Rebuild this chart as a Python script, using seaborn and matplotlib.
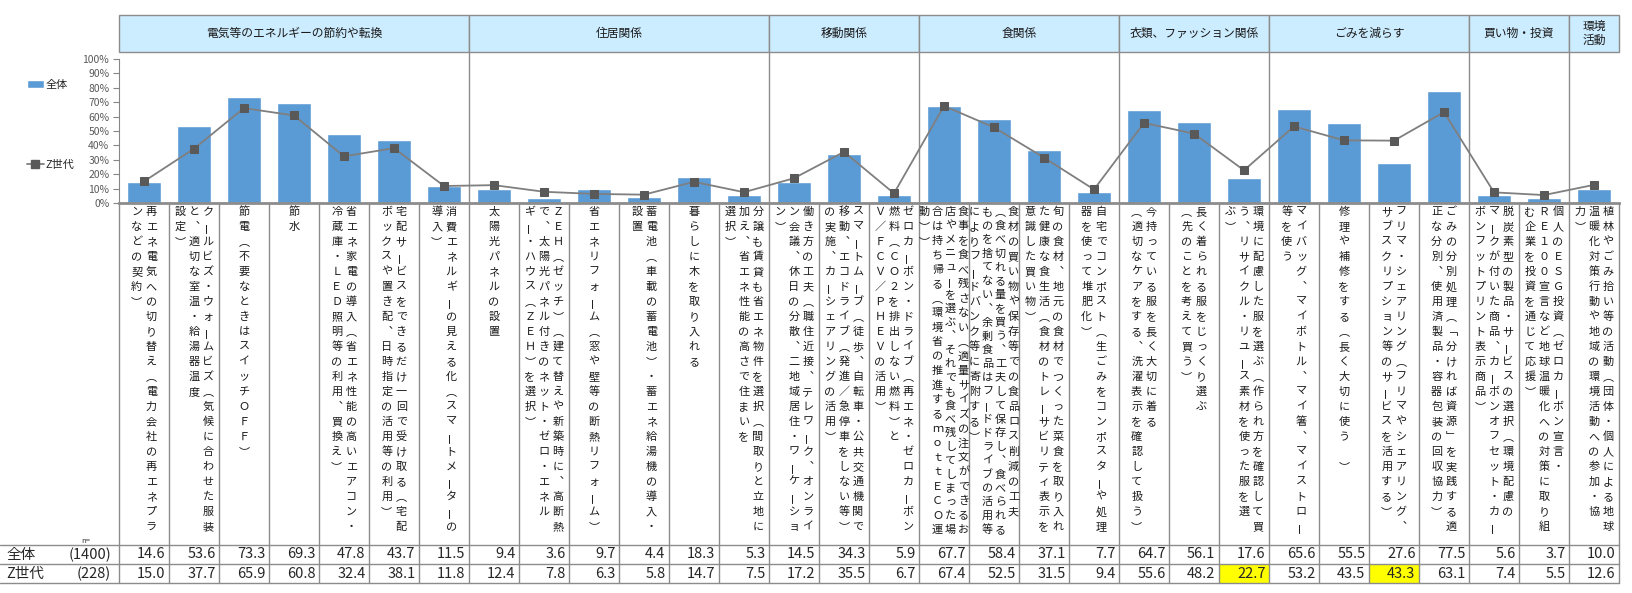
import numpy as np
import pandas as pd
import matplotlib
matplotlib.use("Agg")
import matplotlib.pyplot as plt
from matplotlib.patches import Rectangle, Patch
from matplotlib.lines import Line2D
import seaborn as sns

# ---- data ----
groups = ["電気等のエネルギーの節約や転換", "住居関係", "移動関係", "食関係",
          "衣類、ファッション関係", "ごみを減らす", "買い物・投資", "環境\n活動"]
group_sizes = [7, 6, 3, 4, 3, 4, 2, 1]

# each label is written in vertical columns, right to left
labels = [
    ["再エネ電気への切り替え（電力会社の再エネプラ", "ンなどの契約）"],
    ["クールビズ・ウォームビズ（気候に合わせた服装", "と、適切な室温・給湯器温度", "設定）"],
    ["節電（不要なときはスイッチＯＦＦ）"],
    ["節水"],
    ["省エネ家電の導入（省エネ性能の高いエアコン・", "冷蔵庫・ＬＥＤ照明等の利用、買換え）"],
    ["宅配サービスをできるだけ一回で受け取る（宅配", "ボックスや置き配、日時指定の活用等の利用）"],
    ["消費エネルギーの見える化（スマートメーターの", "導入）"],
    ["太陽光パネルの設置"],
    ["ＺＥＨ（ゼッチ）（建て替えや新築時に、高断熱", "で、太陽光パネル付きのネット・ゼロ・エネル",
     "ギー・ハウス（ＺＥＨ）を選択）"],
    ["省エネリフォーム（窓や壁等の断熱リフォーム）"],
    ["蓄電池（車載の蓄電池）・蓄エネ給湯機の導入・", "設置"],
    ["暮らしに木を取り入れる"],
    ["分譲も賃貸も省エネ物件を選択（間取りと立地に", "加え、省エネ性能の高さで住まいを", "選択）"],
    ["働き方の工夫（職住近接、テレワーク、オンライ", "ン会議、休日の分散、二地域居住・ワーケーショ", "ン）"],
    ["スマートムーブ（徒歩、自転車・公共交通機関で", "移動、エコドライブ（発進／急停車をしない等）",
     "の実施、カーシェアリングの活用）"],
    ["ゼロカーボン・ドライブ（再エネ・ゼロカーボン", "燃料（ＣＯ２を排出しない燃料）と",
     "Ｖ／ＦＣＶ／ＰＨＥＶの活用）"],
    ["食事を食べ残さない（適量サイズの注文ができるお", "店やメニューを選ぶ、それでも食べ残してしまった場",
     "合は持ち帰る（環境省の推進するｍｏｔｔＥＣＯ運", "動））"],
    ["食材の買い物や保存等での食品ロス削減の工夫", "（食べ切れる量を買う、工夫して保存し、食べられる",
     "ものを捨てない、余剰食品はフードドライブの活用等", "によりフードバンク等に寄附する）"],
    ["旬の食材、地元の食材でつくった菜食を取り入れ", "た健康な食生活（食材のトレーサビリティ表示を",
     "意識した買い物）"],
    ["自宅でコンポスト（生ごみをコンポスターや処理", "器を使って堆肥化）"],
    ["今持っている服を長く大切に着る", "（適切なケアをする、洗濯表示を確認して扱う）"],
    ["長く着られる服をじっくり選ぶ", "（先のことを考えて買う）"],
    ["環境に配慮した服を選ぶ（作られ方を確認して買", "う、リサイクル・リユース素材を使った服を選", "ぶ）"],
    ["マイバッグ、マイボトル、マイ箸、マイストロー", "等を使う"],
    ["修理や補修をする（長く大切に使う　）"],
    ["フリマ・シェアリング（フリマやシェアリング、", "サブスクリプション等のサービスを活用する）"],
    ["ごみの分別処理（「分ければ資源」を実践する適", "正な分別、使用済製品・容器包装の回収協力）"],
    ["脱炭素型の製品・サービスの選択（環境配慮の", "マークが付いた商品、カーボンオフセット・カー",
     "ボンフットプリント表示商品）"],
    ["個人のＥＳＧ投資（ゼロカーボン宣言・", "ＲＥ１００宣言など地球温暖化への対策に取り組",
     "む企業を投資を通じて応援）"],
    ["植林やごみ拾い等の活動（団体・個人による地球", "温暖化対策行動や地域の環境活動への参加・協", "力）"],
]

all_vals = [14.6, 53.6, 73.3, 69.3, 47.8, 43.7, 11.5, 9.4, 3.6, 9.7, 4.4, 18.3, 5.3, 14.5, 34.3,
            5.9, 67.7, 58.4, 37.1, 7.7, 64.7, 56.1, 17.6, 65.6, 55.5, 27.6, 77.5, 5.6, 3.7, 10.0]
z_vals = [15.0, 37.7, 65.9, 60.8, 32.4, 38.1, 11.8, 12.4, 7.8, 6.3, 5.8, 14.7, 7.5, 17.2, 35.5,
          6.7, 67.4, 52.5, 31.5, 9.4, 55.6, 48.2, 22.7, 53.2, 43.5, 43.3, 63.1, 7.4, 5.5, 12.6]
series = ["全体", "Z世代"]
series_n = ["(1400)", "(228)"]
highlight_z = [22, 25]

BLUE = "#5B9BD5"
LINE = "#7F7F7F"
MARK = "#595959"
GRID = "#8C8C8C"

sns.set_style("white")
plt.rcParams["font.family"] = ["Noto Sans CJK JP", "DejaVu Sans"]

W, H = 1633, 593
X0, CW = 119, 50           # left edge and width of one item column (px)
HEAD_TOP, HEAD_BOT = 15, 52
PLOT_TOP, PLOT_BOT = 59, 203
TAB_TOP, ROW_H = 545, 19
n = len(all_vals)


def px2u(px):
    return (px - X0) / CW - 0.5


fig = plt.figure(figsize=(W / 100, H / 100), dpi=100)

# frame axes: x in item units, y in pixels (for headers, labels, table)
fr = fig.add_axes([0, 0, 1, 1])
fr.set_xlim(px2u(0), px2u(W))
fr.set_ylim(H, 0)
fr.axis("off")

# group headers
start = 0
bounds = []
for g, size in zip(groups, group_sizes):
    fr.add_patch(Rectangle((start - 0.5, HEAD_TOP), size, HEAD_BOT - HEAD_TOP,
                           facecolor="#CCECFF", edgecolor=GRID, lw=1))
    fr.text(start - 0.5 + size / 2, (HEAD_TOP + HEAD_BOT) / 2, g, ha="center", va="center",
            fontsize=8.5, color="#1a1a1a", linespacing=1.1)
    start += size
    bounds.append(start)
for b in bounds[:-1]:
    fr.plot([b - 0.5, b - 0.5], [HEAD_BOT, PLOT_BOT], color=GRID, lw=1)

# yellow cells
for i in highlight_z:
    fr.add_patch(Rectangle((i - 0.5, TAB_TOP + ROW_H), 1, ROW_H, facecolor="#FFFF00",
                           edgecolor="none", zorder=0))

# grid of label / table cells
for k in range(n + 1):
    fr.plot([k - 0.5, k - 0.5], [PLOT_BOT, TAB_TOP + 2 * ROW_H], color=GRID, lw=1)
for r in range(3):
    y = TAB_TOP + r * ROW_H
    fr.plot([px2u(0), n - 0.5], [y, y], color=GRID, lw=1)

# vertical item labels
vmap = {"（": "︵", "）": "︶", "「": "﹁", "」": "﹂", "、": "︑", "。": "︒"}
col_gap = {1: 0, 2: 14.5, 3: 14, 4: 13}
for i, cols in enumerate(labels):
    nc = len(cols)
    gap = col_gap[nc] / CW
    for j, col in enumerate(cols):
        x = i + (nc - 1) / 2 * gap - j * gap
        pitch = 15 if len(col) <= 22 else (530 - 212) / (len(col) - 1)
        for k, ch in enumerate(col):
            y = 212 + k * pitch
            if ch == "ー":
                fr.text(x, y, ch, ha="center", va="center", fontsize=8, rotation=90,
                        rotation_mode="anchor", color="#1a1a1a")
            else:
                fr.text(x, y, vmap.get(ch, ch), ha="center", va="center", fontsize=8,
                        color="#1a1a1a")

# table values
for r, (name, nn, vals) in enumerate(zip(series, series_n, [all_vals, z_vals])):
    yc = TAB_TOP + r * ROW_H + ROW_H / 2
    fr.text(px2u(6), yc, name, ha="left", va="center", fontsize=10.5)
    fr.text(px2u(111), yc, nn, ha="right", va="center", fontsize=10.5)
    for i, v in enumerate(vals):
        fr.text(i + 0.43, yc, f"{v:.1f}", ha="right", va="center", fontsize=10.5)
fr.text(px2u(81), TAB_TOP - 4, "n=", ha="left", va="center", fontsize=5.5, color="#333333")

# ---- main chart ----
ax = fig.add_axes([X0 / W, 1 - PLOT_BOT / H, n * CW / W, (PLOT_BOT - PLOT_TOP) / H])
ax.patch.set_alpha(0)
keys = [f"item{i + 1}" for i in range(n)]
df = pd.DataFrame({"item": keys, "all": all_vals, "z": z_vals, "pos": np.arange(n)})

sns.barplot(data=df, x="item", y="all", order=keys, color=BLUE, saturation=1,
            width=0.68, ax=ax)
sns.lineplot(data=df, x="pos", y="z", ax=ax, color=LINE, linewidth=1.3, marker="s",
             markersize=5.5, markerfacecolor=MARK, markeredgecolor=MARK)

ax.set_xlim(-0.5, n - 0.5)
ax.set_ylim(0, 100)
ax.set_xticks([])
ax.set_xlabel("")
ax.set_ylabel("")
ax.set_yticks(np.arange(0, 101, 10))
ax.set_yticklabels([f"{v}%" for v in range(0, 101, 10)])
ax.tick_params(axis="y", left=True, length=4, width=0.8, color="#868686", labelsize=7.5,
               labelcolor="#595959", pad=3)
for s in ["top", "right"]:
    ax.spines[s].set_visible(False)
ax.spines["left"].set_color("#868686")
ax.spines["left"].set_linewidth(0.8)
ax.spines["bottom"].set_color(GRID)
ax.spines["bottom"].set_linewidth(2)
if ax.get_legend():
    ax.get_legend().remove()

handles = [Patch(facecolor=BLUE),
           Line2D([0], [0], color=LINE, lw=1.3, marker="s", ms=5.5, mfc=MARK, mec=MARK)]
fig.legend(handles, series, loc="upper left", bbox_to_anchor=(27 / W, 1 - 80 / H),
           frameon=False, fontsize=8, labelspacing=6.3, handlelength=1.5,
           handletextpad=0.2, borderpad=0, borderaxespad=0)

fig.savefig("out.png", dpi=100)
